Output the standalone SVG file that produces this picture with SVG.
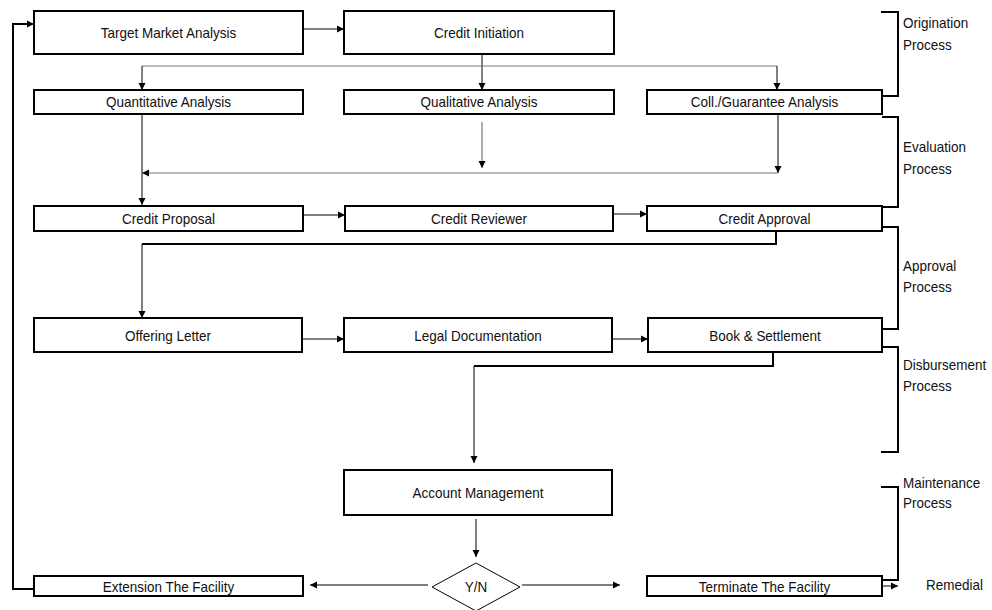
<svg xmlns="http://www.w3.org/2000/svg" width="992" height="610" viewBox="0 0 992 610">
<defs>
<marker id="ah" markerUnits="userSpaceOnUse" markerWidth="8" markerHeight="8" refX="7" refY="4" orient="auto">
<path d="M0,0.5 L7,4 L0,7.5 Z" fill="#000"/>
</marker>
<style>
.box{fill:#fff;stroke:#000;stroke-width:2}
.t{font-family:"Liberation Sans",Arial,sans-serif;font-size:15px;fill:#111;text-anchor:middle;dominant-baseline:central}
.lbl{font-family:"Liberation Sans",Arial,sans-serif;font-size:15px;fill:#111}
.c{fill:none;stroke:#000;stroke-width:1}
.g{fill:none;stroke:#777;stroke-width:1.2}
.k{fill:none;stroke:#000;stroke-width:2}
.br{fill:none;stroke:#000;stroke-width:2}
</style>
</defs>
<rect width="992" height="610" fill="#fff"/>

<g id="connectors">
<path class="k" d="M34,589 H13 V24 H27" />
<line class="c" x1="26" y1="24" x2="34" y2="24" marker-end="url(#ah)"/>
<line class="c" x1="303" y1="29" x2="344" y2="29" marker-end="url(#ah)"/>
<line class="c" x1="482" y1="54" x2="482" y2="90" marker-end="url(#ah)"/>
<path class="g" d="M142,66 H777"/>
<line class="c" x1="142" y1="66" x2="142" y2="90" marker-end="url(#ah)"/>
<line class="c" x1="777" y1="66" x2="777" y2="90" marker-end="url(#ah)"/>
<line class="c" x1="142" y1="114" x2="142" y2="205" marker-end="url(#ah)"/>
<line class="g" x1="482" y1="122" x2="482" y2="168" marker-end="url(#ah)"/>
<line class="c" x1="778" y1="114" x2="778" y2="173" marker-end="url(#ah)"/>
<line class="g" x1="778" y1="173" x2="142" y2="173" marker-end="url(#ah)"/>
<line class="c" x1="303" y1="215" x2="345" y2="215" marker-end="url(#ah)"/>
<line class="c" x1="613" y1="214" x2="647" y2="214" marker-end="url(#ah)"/>
<path class="k" d="M776,231 V244 H142"/>
<line class="c" x1="142" y1="244" x2="142" y2="318" marker-end="url(#ah)"/>
<line class="c" x1="302" y1="339" x2="344" y2="339" marker-end="url(#ah)"/>
<line class="c" x1="612" y1="339" x2="648" y2="339" marker-end="url(#ah)"/>
<path class="k" d="M773,352 V366 H474"/>
<line class="c" x1="474" y1="366" x2="474" y2="463" marker-end="url(#ah)"/>
<line class="c" x1="476" y1="519" x2="476" y2="557" marker-end="url(#ah)"/>
<line class="c" x1="428" y1="585" x2="310" y2="585" marker-end="url(#ah)"/>
<line class="c" x1="522" y1="585" x2="620" y2="585" marker-end="url(#ah)"/>
<line class="c" x1="882" y1="586" x2="898" y2="586" marker-end="url(#ah)"/>
</g>

<g id="brackets">
<path class="br" d="M881,12 H898 V96 H882"/>
<path class="br" d="M882,117 H898 V207 H882"/>
<path class="br" d="M882,227 H898 V329 H882"/>
<path class="br" d="M882,347 H898 V452 H881"/>
<path class="br" d="M881,487 H898 V580 H882"/>
<text class="lbl" transform="translate(903,28) scale(0.9,1)">Origination</text>
<text class="lbl" transform="translate(903,50) scale(0.9,1)">Process</text>
<text class="lbl" transform="translate(903,152) scale(0.9,1)">Evaluation</text>
<text class="lbl" transform="translate(903,174) scale(0.9,1)">Process</text>
<text class="lbl" transform="translate(903,271) scale(0.9,1)">Approval</text>
<text class="lbl" transform="translate(903,292) scale(0.9,1)">Process</text>
<text class="lbl" transform="translate(903,370) scale(0.9,1)">Disbursement</text>
<text class="lbl" transform="translate(903,391) scale(0.9,1)">Process</text>
<text class="lbl" transform="translate(903,488) scale(0.9,1)">Maintenance</text>
<text class="lbl" transform="translate(903,508) scale(0.9,1)">Process</text>
<text class="lbl" transform="translate(926,590) scale(0.9,1)">Remedial</text>
</g>

<g id="n-target"><rect class="box" x="34" y="11" width="269" height="43"/><text class="t" transform="translate(168.5,32.5) scale(0.9,1)">Target Market Analysis</text></g>
<g id="n-initiation"><rect class="box" x="344" y="11" width="270" height="43"/><text class="t" transform="translate(479,32.5) scale(0.9,1)">Credit Initiation</text></g>
<g id="n-quant"><rect class="box" x="34" y="90" width="269" height="24"/><text class="t" transform="translate(168.5,102) scale(0.9,1)">Quantitative Analysis</text></g>
<g id="n-qual"><rect class="box" x="344" y="90" width="270" height="24"/><text class="t" transform="translate(479,102) scale(0.9,1)">Qualitative Analysis</text></g>
<g id="n-coll"><rect class="box" x="647" y="90" width="235" height="24"/><text class="t" transform="translate(764.5,102) scale(0.9,1)">Coll./Guarantee Analysis</text></g>
<g id="n-proposal"><rect class="box" x="34" y="206" width="269" height="25"/><text class="t" transform="translate(168.5,218.5) scale(0.9,1)">Credit Proposal</text></g>
<g id="n-reviewer"><rect class="box" x="345" y="206" width="268" height="25"/><text class="t" transform="translate(479,218.5) scale(0.9,1)">Credit Reviewer</text></g>
<g id="n-approval"><rect class="box" x="647" y="206" width="235" height="25"/><text class="t" transform="translate(764.5,218.5) scale(0.9,1)">Credit Approval</text></g>
<g id="n-offering"><rect class="box" x="34" y="318" width="268" height="34"/><text class="t" transform="translate(168,335.5) scale(0.9,1)">Offering Letter</text></g>
<g id="n-legal"><rect class="box" x="344" y="318" width="268" height="34"/><text class="t" transform="translate(478,335.5) scale(0.9,1)">Legal Documentation</text></g>
<g id="n-book"><rect class="box" x="648" y="318" width="234" height="34"/><text class="t" transform="translate(765,335.5) scale(0.9,1)">Book &amp; Settlement</text></g>
<g id="n-account"><rect class="box" x="344" y="470" width="268" height="45"/><text class="t" transform="translate(478,492.5) scale(0.9,1)">Account Management</text></g>
<g id="n-decision"><polygon points="476,563 520,587 476,611 432,587" fill="#fff" stroke="#000" stroke-width="1"/><text class="t" transform="translate(476,587) scale(0.9,1)">Y/N</text></g>
<g id="n-extension"><rect class="box" x="34" y="576" width="269" height="20"/><text class="t" transform="translate(168.5,587) scale(0.9,1)">Extension The Facility</text></g>
<g id="n-terminate"><rect class="box" x="647" y="576" width="235" height="20"/><text class="t" transform="translate(764.5,587) scale(0.9,1)">Terminate The Facility</text></g>
</svg>
